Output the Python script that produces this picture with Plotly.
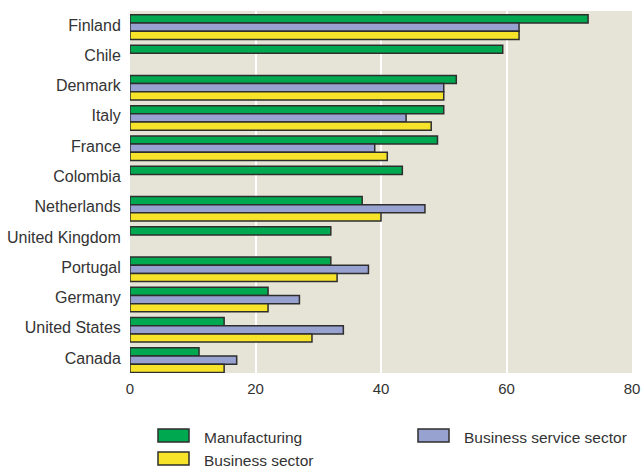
import plotly.graph_objects as go

# Share of firms (%) by country and sector
countries = ["Finland", "Chile", "Denmark", "Italy", "France", "Colombia",
             "Netherlands", "United Kingdom", "Portugal", "Germany",
             "United States", "Canada"]
manufacturing = [73, 59.4, 52, 50, 49, 43.4, 37, 32, 32, 22, 15, 11]
business_service = [62, None, 50, 44, 39, None, 47, None, 38, 27, 34, 17]
business_sector = [62, None, 50, 48, 41, None, 40, None, 33, 22, 29, 15]

series_names = ["Manufacturing", "Business service sector", "Business sector"]
series_values = [manufacturing, business_service, business_sector]
series_colors = ["#00A94F", "#98A2D0", "#F7E42A"]

x_ticks = [0, 20, 40, 60, 80]

FONT = "Liberation Sans, Arial, sans-serif"
TEXT = "#333333"
W, H = 644, 472
ML, MR, MT, MB = 130, 12, 11, 99

# Bars stacked tightly under each country label, slightly below its centre
BAR_W = 0.27
BAR_START = -0.335

fig = go.Figure()
for i, (name, vals, col) in enumerate(zip(series_names, series_values, series_colors)):
    fig.add_trace(go.Bar(
        y=countries, x=vals, name=name, orientation="h",
        width=BAR_W, offset=BAR_START + i * BAR_W,
        marker=dict(color=col, line=dict(color="#2e2e2e", width=1.5)),
        showlegend=False,
    ))

# Legend drawn as swatches + labels below the plot
pw, ph = W - ML - MR, H - MT - MB


def px_x(x):
    return (x - ML) / pw


def px_y(y):
    return (H - MB - y) / ph


legend_pos = [(158, 429), (418, 429), (158, 452)]  # Manufacturing, Business service, Business sector
shapes = []
annotations = []
for (lx, ly), name, col in zip(legend_pos, series_names, series_colors):
    shapes.append(dict(type="rect", xref="paper", yref="paper",
                       x0=px_x(lx), x1=px_x(lx + 31), y0=px_y(ly), y1=px_y(ly + 13),
                       fillcolor=col, line=dict(color="#2e2e2e", width=1.5)))
    annotations.append(dict(xref="paper", yref="paper", x=px_x(lx + 44), y=px_y(ly + 8),
                            text=name, showarrow=False, xanchor="left", yanchor="middle",
                            font=dict(family=FONT, size=15.5, color=TEXT)))

fig.update_layout(
    width=W, height=H,
    margin=dict(l=ML, r=MR, t=MT, b=MB),
    barmode="overlay",
    plot_bgcolor="#E6E4D7", paper_bgcolor="white",
    font=dict(family=FONT, size=16, color=TEXT),
    shapes=shapes, annotations=annotations,
    xaxis=dict(range=[0, 80], tickvals=x_ticks, showgrid=True, automargin=False,
               gridcolor="white", gridwidth=2, zeroline=False, showline=False,
               ticks="outside", ticklen=2, tickcolor="rgba(0,0,0,0)",
               tickfont=dict(family=FONT, size=15, color=TEXT)),
    yaxis=dict(range=[11.4955, -0.4625], showgrid=False, zeroline=False, automargin=False,
               ticks="outside", ticklen=5, tickcolor="rgba(0,0,0,0)",
               tickfont=dict(family=FONT, size=16, color=TEXT)),
)

fig.write_html("out.html")
